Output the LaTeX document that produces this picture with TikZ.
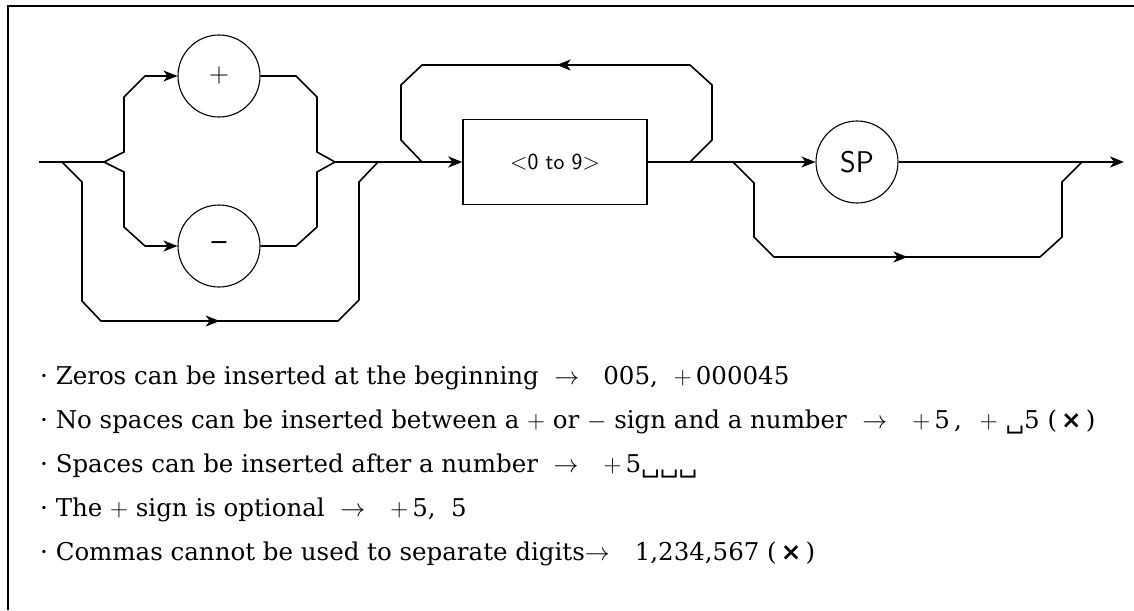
\documentclass[tikz,border=0pt]{standalone}
\usepackage{fontspec}
\usetikzlibrary{arrows.meta,decorations.markings}
\newfontfamily\notefont{DejaVu Serif}
\newfontfamily\crossfont{DejaVu Sans}
\tikzset{
  syn/.style={line width=1.6pt},
  tip/.style={-{Stealth[length=14pt,width=11pt,inset=4pt]}},
  midtip/.style={postaction={decorate},decoration={markings,
    mark=at position #1 with {\arrow{Stealth[length=14pt,width=11pt,inset=4pt]}}}},
  term/.style={draw, circle, line width=1.1pt, minimum size=82pt, inner sep=0pt,
    font=\sffamily\fontsize{28}{30}\selectfont},
  nonterm/.style={draw, line width=1.4pt, minimum width=184pt, minimum height=85pt,
    font=\sffamily\fontsize{23}{26}\selectfont},
  note/.style={anchor=west, inner sep=0pt, font=\notefont\fontsize{24.5}{28}\selectfont}
}
\begin{document}
\begin{tikzpicture}[x=1pt,y=-1pt]
  \useasboundingbox (0,0) rectangle (1134,610);
  \draw[line width=1.6pt] (1134,6) -- (8,6) -- (8,610);

  \node[term] (plus) at (219,76) {+};
  \node[term] (minus) at (219,246) {\bfseries --};
  \node[nonterm] (digit) at (555,162) {<0 to 9>};
  \node[term, font=\sffamily\fontsize{30}{32}\selectfont] (sp) at (857,162) {SP};

  \coordinate (in) at (39,162);
  \coordinate (skip1) at (62,162);
  \coordinate (fork) at (104,162);
  \coordinate (join) at (335,162);
  \coordinate (skip2) at (378,162);
  \coordinate (back) at (422,162);
  \coordinate (loop) at (690,162);
  \coordinate (skip3) at (733,162);
  \coordinate (skip4) at (1082,162);
  \coordinate (out) at (1124,162);

  \draw[syn] (in) -- (fork);
  \draw[syn, tip] (fork) -- ++(20,-10) -- ++(0,-55) -- ++(21,-21) -- (plus);
  \draw[syn, tip] (fork) -- ++(20,10) -- ++(0,55) -- ++(21,19) -- (minus);
  \draw[syn] (plus) -- ++(77,0) -- ++(21,21) -- ++(0,55) -- (join);
  \draw[syn] (minus) -- ++(77,0) -- ++(21,-19) -- ++(0,-55) -- (join);
  \draw[syn, midtip=0.5] (skip1) -- ++(20,20) -- ++(0,119) -- ++(19,20) -- ++(237,0)
    -- ++(21,-21) -- ++(0,-118) -- (skip2);
  \draw[syn, tip] (join) -- (digit);
  \draw[syn, midtip=0.5] (loop) -- ++(22,-22) -- ++(0,-55) -- ++(-22,-20) -- ++(-268,0)
    -- ++(-21,20) -- ++(0,55) -- (back);
  \draw[syn, tip] (digit) -- (sp);
  \draw[syn, tip] (sp) -- (out);
  \draw[syn, midtip=0.5] (skip3) -- ++(21,21) -- ++(0,54) -- ++(20,20) -- ++(266,0)
    -- ++(22,-20) -- ++(0,-55) -- (skip4);

  \node[note] (rule1) at (40,378) {\textperiodcentered\ Zeros can be inserted at the beginning\ \ $\rightarrow$\hspace{24pt}005,\hspace{16pt}$+$\,000045};
  \node[note] (rule2) at (40,422) {\textperiodcentered\ No spaces can be inserted between a $+$ or $-$ sign and a number\ \ $\rightarrow$\hspace{25pt}$+$\,5\,,\hspace{18pt}$+$\ \textvisiblespace 5\ (\,{\crossfont\bfseries ×}\,)};
  \node[note] (rule3) at (40,466) {\textperiodcentered\ Spaces can be inserted after a number\ \ $\rightarrow$\hspace{25pt}$+$\,5\textvisiblespace\textvisiblespace\textvisiblespace};
  \node[note] (rule4) at (40,510) {\textperiodcentered\ The $+$ sign is optional\ \ $\rightarrow$\hspace{25pt}$+$\,5,\ \ 5};
  \node[note] (rule5) at (40,554) {\textperiodcentered\ Commas cannot be used to separate digits$\rightarrow$\hspace{25pt}1,234,567\ (\,{\crossfont\bfseries ×}\,)};
\end{tikzpicture}
\end{document}
